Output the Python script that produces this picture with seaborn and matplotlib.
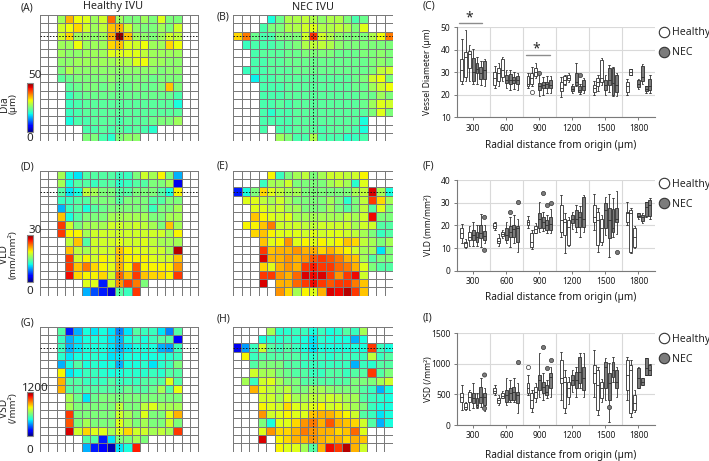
import numpy as np
import pandas as pd
import matplotlib
matplotlib.use('Agg')
import matplotlib.pyplot as plt
from matplotlib.colors import ListedColormap
from matplotlib.lines import Line2D
import seaborn as sns

N = np.nan

# ---------------- heat-map data (rows top->bottom, 19 columns) ----------------
dia_healthy = [
    [N,N,27,36,32,31,27,30,40,27,25,25,27,25,31,25,25,N,N],
    [N,N,30,32,34,30,27,29,35,36,30,26,25,25,27,25,30,N,N],
    [N,N,30,34,27,27,26,27,36,49,35,27,26,25,27,30,29,N,N],
    [N,N,27,27,32,27,27,27,34,35,31,30,32,27,27,34,32,N,N],
    [N,N,27,26,26,27,27,27,31,31,31,31,29,27,27,27,27,N,N],
    [N,N,26,26,27,27,27,27,27,28,28,31,32,27,27,26,26,N,N],
    [N,N,25,28,26,26,26,26,26,26,26,26,26,26,25,26,26,N,N],
    [N,N,23,24,25,25,25,25,26,25,25,25,25,24,25,25,25,N,N],
    [N,N,N,23,24,25,25,24,25,24,24,25,24,24,25,35,25,N,N],
    [N,N,N,21,23,24,24,24,24,24,24,24,24,24,24,24,22,N,N],
    [N,N,N,21,22,23,23,23,23,23,23,23,23,23,23,23,19,N,N],
    [N,N,N,21,22,23,23,23,23,23,23,23,23,23,23,23,23,N,N],
    [N,N,N,19,22,22,23,23,23,22,23,23,23,24,25,25,27,N,N],
    [N,N,N,N,N,22,22,23,22,23,22,23,22,20,N,N,N,N,N],
    [N,N,N,N,N,25,25,22,20,25,26,26,N,N,N,N,N,N,N],
]
dia_nec = [
    [N,N,N,N,19,24,28,28,29,28,26,28,28,25,22,24,N,N,N],
    [N,N,N,22,25,25,28,28,30,31,28,28,29,28,25,31,N,N,N],
    [34,39,24,22,22,25,25,25,30,43,30,28,26,25,25,25,28,32,39],
    [N,21,22,22,22,23,24,25,28,29,29,28,26,25,25,25,25,25,25],
    [N,N,22,23,23,23,24,24,25,25,25,25,24,24,24,25,25,26,25],
    [N,N,22,22,23,23,24,24,24,24,24,24,24,24,24,24,25,26,25],
    [N,21,22,22,23,23,23,24,24,24,24,24,24,24,24,24,25,29,30],
    [N,N,18,22,22,23,23,23,23,23,23,23,23,23,24,25,30,32,25],
    [N,N,N,22,22,22,23,23,23,23,23,23,23,23,24,24,27,30,32],
    [N,N,N,22,22,22,23,23,23,23,23,23,23,23,23,24,24,27,25],
    [N,N,N,22,22,23,22,23,23,23,23,23,23,23,23,24,27,31,30],
    [N,N,N,22,20,22,22,23,23,23,23,23,23,23,23,23,25,31,25],
    [N,N,N,22,22,22,22,23,23,23,23,23,23,23,23,19,N,N,N],
    [N,N,N,22,N,22,22,23,23,23,22,23,23,23,22,19,N,N,N],
    [N,N,N,N,N,27,25,22,22,28,22,22,22,20,21,22,N,N,N],
]
vld_healthy = [
    [N,N,16.5,11.4,10.5,13.5,13.5,13.5,13.5,12.6,12.6,15,18,16.5,19.5,15,9,N,N],
    [N,N,16.5,11.4,13.5,13.5,12.6,13.5,13.5,12,12.6,13.5,13.5,15,15,16.5,3,N,N],
    [N,N,13.5,10.5,11.4,17.4,16.5,15,15,13.5,13.5,15,15,15,13.5,11.4,19.5,N,N],
    [N,N,12.6,12.6,13.5,13.5,15,15,15,13.5,15,15,15,13.5,13.5,15,15,N,N],
    [N,N,9,12.6,13.5,11.4,13.5,14.4,15,15,15,15,15,12.6,15,15,16.5,N,N],
    [N,N,21,11.4,13.5,15,15,15,16.5,16.5,16.5,16.5,16.5,15,15,16.5,16.5,N,N],
    [N,N,25.5,18,15,16.5,16.5,16.5,18,18,17.4,18,17.4,16.5,15,21,16.5,N,N],
    [N,N,25.5,19.5,19.5,16.5,18,18,18,18,18,18,18,18,18,16.5,19.5,N,N],
    [N,N,N,17.4,21,13.5,18,18,18,18.6,18,18,18.6,17.4,16.5,16.5,16.5,N,N],
    [N,N,N,21,17.4,16.5,18,18,18,21,19.5,18.6,18.6,18,18,16.5,28.5,N,N],
    [N,N,N,25.5,18,19.5,18,19.5,18.6,21,19.5,19.5,19.5,18.6,18,18,21,N,N],
    [N,N,N,25.5,21,23.4,20.4,19.5,18.6,21.6,19.5,24.6,19.5,19.5,19.5,19.5,22.5,N,N],
    [N,N,N,27,20.4,19.5,19.5,20.4,18,24,21,25.5,21,20.4,20.4,19.5,25.5,N,N],
    [N,N,N,N,N,18.6,18.6,4.5,18,22.5,25.5,23.4,15,N,N,N,N,N,N],
    [N,N,N,N,N,9,6,4.5,2.4,13.5,12.6,25.5,N,N,N,N,N,N,N],
]
vld_nec = [
    [N,N,N,N,19.5,12.6,15,16.5,17.4,15,16.5,18,18,17.4,18,19.5,N,N,N],
    [N,N,N,12.6,16.5,16.5,18,15,15,15,15,16.5,17.4,16.5,12,18.6,N,N,N],
    [4.5,11.4,15,20.4,18.6,17.4,16.5,16.5,15,15,15,15,15,15,16.5,17.4,27.6,16.5,11.4],
    [N,18.6,18.6,17.4,16.5,18,16.5,15,15,15,15,16.5,15,12,15,17.4,25.5,20.4,16.5],
    [N,N,18.6,18.6,17.4,18,16.5,16.5,15,15,15,16.5,15,13.5,15,17.4,13.5,18.6,15],
    [N,N,21,19.5,18.6,18,18.6,16.5,16.5,16.5,16.5,16.5,16.5,17.4,16.5,18,27,15,15],
    [N,19.5,19.5,21,23.4,18,18,18,17.4,17.4,18,18,18,18,16.5,18,18,13.5,13.5],
    [N,N,20.4,21,19.5,18.6,18.6,18.6,18,18.6,18,18.6,18.6,18,17.4,16.5,15,12.6,13.5],
    [N,N,N,21,18.6,19.5,22.5,18.6,19.5,18.6,19.5,18.6,19.5,21,20.4,17.4,16.5,15,16.5],
    [N,N,N,25.5,21,21.6,21.6,22.5,21.6,21.6,20.4,21.6,20.4,19.5,18,16.5,16.5,10.5,15],
    [N,N,N,27.6,21.6,21.6,22.5,21.6,22.5,24.6,25.5,24.6,23.4,21.6,21,16.5,13.5,15,15],
    [N,N,N,20.4,18.6,21.6,22.5,21.6,25.5,26.4,25.5,25.5,24,23.4,21.6,18.6,15,13.5,13.5],
    [N,N,N,25.5,25.5,22.5,21.6,24,27.6,27,27.6,25.5,22.5,25.5,27,18,N,N,N],
    [N,N,N,27.6,N,21.6,21.6,24,25.5,27,25.5,24.6,25.5,25.5,23.4,21,N,N,N],
    [N,N,N,N,N,22.5,20.4,16.5,19.5,18.6,21.6,27.6,27,28.5,25.5,21,N,N,N],
]
vsd_healthy = [
    [N,N,540,180,360,456,420,456,420,300,420,540,504,504,420,300,540,N,N],
    [N,N,504,360,420,456,456,456,420,360,456,504,456,504,540,540,144,N,N],
    [N,N,504,360,420,456,456,456,420,360,420,456,456,456,360,336,504,N,N],
    [N,N,480,420,456,456,480,456,420,420,456,456,456,456,456,480,504,N,N],
    [N,N,360,456,540,456,480,456,456,360,456,456,480,420,480,504,600,N,N],
    [N,N,780,420,456,504,504,480,456,456,480,480,480,504,480,540,540,N,N],
    [N,N,864,540,540,504,504,504,540,504,504,504,540,540,540,744,540,N,N],
    [N,N,864,540,540,540,540,540,540,540,576,540,540,576,660,540,756,N,N],
    [N,N,N,660,576,420,576,600,600,600,600,600,600,600,600,600,600,N,N],
    [N,N,N,660,600,600,600,600,600,696,600,600,696,744,660,660,660,N,N],
    [N,N,N,1020,600,600,600,600,600,720,660,600,744,600,600,744,864,N,N],
    [N,N,N,984,600,660,600,600,600,744,660,600,660,600,600,720,600,N,N],
    [N,N,N,1104,720,816,744,744,660,744,816,720,720,660,696,660,1020,N,N],
    [N,N,N,N,N,540,540,180,420,600,600,660,600,N,N,N,N,N,N],
    [N,N,N,N,N,360,180,144,60,420,456,1056,N,N,N,N,N,N,N],
]
vsd_nec = [
    [N,N,N,N,660,480,480,504,504,456,504,456,480,540,504,660,N,N,N],
    [N,N,N,456,480,480,504,480,456,420,480,456,456,456,360,456,N,N,N],
    [120,336,504,720,540,504,540,504,456,420,456,456,456,456,456,456,1020,504,456],
    [N,780,504,540,540,540,540,540,504,480,504,480,504,504,504,504,696,504,540],
    [N,N,540,600,600,600,540,540,504,504,504,504,504,504,360,504,480,540,540],
    [N,N,720,660,660,600,576,540,540,504,504,540,540,504,540,540,1020,540,600],
    [N,660,504,720,744,660,600,600,540,540,540,540,540,540,600,600,600,660,720],
    [N,N,864,744,696,660,696,600,600,660,660,624,600,600,600,540,504,360,456],
    [N,N,N,720,720,660,744,660,660,696,696,720,696,660,660,540,504,480,456],
    [N,N,N,780,744,720,816,744,720,744,780,720,744,696,660,600,504,456,456],
    [N,N,N,900,720,744,780,744,744,840,864,864,816,780,720,540,504,420,456],
    [N,N,N,600,456,744,744,816,900,936,864,984,864,840,816,720,540,360,456],
    [N,N,N,744,900,816,816,864,936,900,864,864,816,840,960,744,N,N,N],
    [N,N,N,1104,N,780,816,864,864,900,864,840,864,816,864,840,N,N,N],
    [N,N,N,N,N,780,744,744,660,540,864,1080,1020,1140,864,720,N,N,N],
]

# ---------------- box-plot data: [low whisker, Q1, median, Q3, high whisker] ----------------
radial_bins = ['300', '600', '900', '1200', '1500', '1800']
healthy_ids = ['H1', 'H2', 'H3']
nec_ids = ['N1', 'N2', 'N3', 'N4']

dia_box_healthy = [
    [[25,26,31,36,45], [26,28,37,39,49], [26,32,38,39.5,42]],
    [[23,24.5,27.5,30,33], [24,26,29.5,32,34], [26,28,31,36,37]],
    [[23,23.7,25,28.4,29.5], [23.7,25,27.3,29.6,32.5], [27.5,28.2,30,32,34]],
    [[19,21.5,23,25.5,28], [24.5,25,26.5,28.4,29], [25.5,26.5,27.5,28.8,29.5]],
    [[20,21.4,23,24.4,26], [21.5,23.7,25.8,27.3,29], [24.4,25.8,27.3,35.3,36.5]],
    [[20,21.4,23.7,25.8,27], [28.8,29,30,31.3,31.5], None],
]
dia_box_nec = [
    [[25,26,30,36.5,40.5], [25,29.5,31.5,34.3,37], [24.4,27,29.6,32.5,35], [23.7,27,30.8,35,36]],
    [[23,25.1,26.6,28.8,31], [22,24.8,26.5,29.3,30.8], [22.5,25.1,26.6,28.1,30], [22,24.8,26.6,28.4,29.5]],
    [[19.5,22.1,23.7,25.1,29.5], [20,23,24.2,25.5,28], [21,23,24.6,25.8,28.5], [21,23,24.5,26.7,28.5]],
    [[21,21.6,22.6,23.7,25], [23.7,24.4,25.8,29.6,34], [20.5,21.1,22.3,23.7,25], [21,22.2,24,26.7,27.5]],
    [[20,22.2,24.4,26.7,28.8], [21.4,24.4,26.6,31.9,33.4], [19.5,20,25.1,31.9,32.5], [19.5,21.1,24.4,28.8,29.5]],
    [[22.5,23.5,25,26.5,27], [25,26,28,33,33.5], [21,21.5,22.5,24,24], [21,22,24,27,29]],
]
dia_outliers = [('900', 'H2', 21.4), ('900', 'N1', 29.6), ('1200', 'N3', 28.8)]

vld_box_healthy = [
    [[12,14.3,16.5,18.7,20.6], [10,10.6,12.1,12.8,14], [11,13.5,15,17.2,19.5]],
    [[18,18.7,19.8,21,21.5], [11,12,13.2,14.5,16], [14.5,15.4,16.3,17.2,18]],
    [[18.7,20.2,21.4,22.4,24], [9.6,10.6,12.8,16.5,18], [16.5,16.8,18.5,19.5,21]],
    [[14.7,17.2,22.4,29,33.4], [7.6,15.7,21.6,23,25.3], [11,11.3,19.4,22.4,23.5]],
    [[18,21.6,23.8,29,34], [8.4,11.3,22.4,26,27.5], [11.5,12.8,18.7,23,24.5]],
    [[20,21.6,25.3,26,30.4], [7.6,8.4,25.3,26.8,27.5], [10,10.6,15,18.7,19.5]],
]
vld_box_nec = [
    [[11,13.5,15.8,18,21.4], [11,12.8,15,17.2,20], [10.6,14.3,16.5,20.2,25], [12,13.5,15.5,17.5,20]],
    [[12,13.5,15.8,18.7,21.4], [10.6,15,17.2,19.5,23.5], [12,15,18.4,20.2,24.6], [8.3,12.8,18.7,19.5,23]],
    [[17.2,18.7,23,25.3,30.5], [17.5,18.7,21.6,23.8,26], [16.5,17.9,20.2,22.4,24.5], [16.5,17.9,20.5,23.8,27]],
    [[18.5,20.9,23,24.6,26], [17,19.4,23,26.8,29], [15,19.4,23.8,26,28.5], [17.2,19.4,23,32.6,33.4]],
    [[15.7,18.7,26.8,29.7,32.6], [6.2,14.3,22.4,27.5,34], [15,17,19,27,32], [16,21.6,23,27.5,35]],
    [[23,23.5,24,25.3,25.5], [21,22,23.5,24.6,25.5], [23.8,24,28,30.4,30.5], [23,24,29,31.2,32]],
]
vld_outliers = [('300', 'N4', 23.5), ('300', 'N4', 9), ('600', 'N2', 26), ('600', 'N4', 30.4),
                ('900', 'N2', 34.2), ('900', 'N3', 29), ('900', 'N4', 30), ('1500', 'N4', 8.3)]

vsd_box_healthy = [
    [[245,382,464,518,655], [245,260,300,355,380], [245,382,464,545,580]],
    [[490,518,562,600,655], [327,355,409,436,490], [436,440,480,518,560]],
    [[490,518,600,682,818], [220,273,409,518,570], [380,436,545,627,680]],
    [[409,682,764,1064,1200], [190,273,709,791,900], [350,464,600,709,790]],
    [[464,682,845,982,1227], [164,245,655,900,955], [380,436,600,709,760]],
    [[409,573,818,1064,1118], [136,191,900,982,1064], [220,245,355,491,570]],
]
vsd_box_nec = [
    [[270,355,436,518,680], [270,300,330,436,520], [300,355,464,616,764], [230,330,450,530,600]],
    [[327,382,491,573,764], [380,409,518,600,736], [380,409,545,616,764], [190,355,490,545,682]],
    [[464,573,736,818,1173], [409,518,627,709,845], [436,491,545,655,736], [464,600,791,845,955]],
    [[545,655,736,818,900], [464,600,736,873,955], [600,682,873,1118,1173], [464,573,764,955,1173]],
    [[409,600,955,1036,1100], [55,409,682,845,1009], [709,791,900,1036,1118], [464,600,700,900,950]],
    [[600,600,764,927,950], [655,655,709,764,764], [818,818,927,1091,1100], [818,818,900,982,1000]],
]
vsd_outliers = [('300', 'N4', 818), ('300', 'N4', 272), ('600', 'N4', 1036), ('900', 'H1', 955),
                ('900', 'N2', 1282), ('900', 'N3', 927), ('900', 'N4', 1064), ('1500', 'N2', 300)]

# ---------------- styling ----------------
sns.set_theme(style='white')
plt.rcParams['font.family'] = ['Noto Sans', 'DejaVu Sans']
plt.rcParams['axes.unicode_minus'] = False

W, H = 709, 461
fig = plt.figure(figsize=(W / 100, H / 100), dpi=100)
fig.patch.set_facecolor('white')


def rect(l, t, r, b):
    return [l / W, 1 - b / H, (r - l) / W, (b - t) / H]


def ftext(x, y, s, **kw):
    kw.setdefault('ha', 'center')
    kw.setdefault('va', 'center')
    fig.text(x / W, 1 - y / H, s, **kw)


def draw_map(box, grid, vmax):
    ax = fig.add_axes(rect(*box))
    arr = np.array(grid, dtype=float)
    sns.heatmap(np.zeros(arr.shape), ax=ax, cmap=ListedColormap(['white']), vmin=0, vmax=1,
                cbar=False, linewidths=0.6, linecolor='#a8a8a8',
                xticklabels=False, yticklabels=False)
    sns.heatmap(arr, ax=ax, cmap='jet', vmin=0, vmax=vmax, cbar=False,
                linewidths=0.6, linecolor='#7a7a7a',
                xticklabels=False, yticklabels=False)
    mesh = ax.collections[-1]
    ax.axvline(9.5, color='#1a1a1a', lw=0.7, ls=(0, (1.6, 1.6)))
    ax.axhline(2.5, color='#1a1a1a', lw=0.7, ls=(0, (1.6, 1.6)))
    return ax, mesh


def draw_cbar(mesh, box, top_lbl, top_y, bot_y, name, unit, name_y):
    cax = fig.add_axes(rect(*box))
    cb = fig.colorbar(mesh, cax=cax)
    cb.set_ticks([])
    cb.outline.set_edgecolor('#8a8a8a')
    cb.outline.set_linewidth(0.8)
    ftext(35, top_y, top_lbl, fontsize=8.3, fontweight='bold')
    ftext(30, bot_y, '0', fontsize=8.3, fontweight='bold')
    ftext(5, name_y, name, fontsize=7.3, fontweight='bold', rotation=90)
    ftext(13.5, name_y, unit, fontsize=7.0, fontweight='bold', rotation=90)


subjects = healthy_ids + nec_ids
palette = {s: 'white' for s in healthy_ids}
palette.update({s: '#7c7c7c' for s in nec_ids})


def long_table(box_h, box_n):
    rows = []
    for b, lab in enumerate(radial_bins):
        for ids, group in ((healthy_ids, box_h[b]), (nec_ids, box_n[b])):
            for sid, stats in zip(ids, group):
                if stats is None:
                    continue
                for v in stats:
                    rows.append((lab, sid, v))
    return pd.DataFrame(rows, columns=['bin', 'subject', 'value'])


def draw_box(box, box_h, box_n, outliers, ylim, yticks, ylabel, ylab_x, xlab_gap, leg_y):
    l, t, r, b = box
    ax = fig.add_axes(rect(*box))
    df = long_table(box_h, box_n)
    for x in np.arange(0.5, 5.5, 1.0):
        ax.axvline(x, color='#d9d9d9', lw=0.8, zorder=0)
    for y in yticks:
        ax.axhline(y, color='#d9d9d9', lw=0.8, zorder=0)
    sns.boxplot(data=df, x='bin', y='value', hue='subject', order=radial_bins,
                hue_order=subjects, palette=palette, whis=(0, 100), showfliers=False,
                width=0.8, gap=0.22, linecolor='#2e2e2e', linewidth=0.6,
                dodge=True, legend=False, ax=ax)
    odf = pd.DataFrame(outliers, columns=['bin', 'subject', 'value'])
    sns.stripplot(data=odf, x='bin', y='value', hue='subject', order=radial_bins,
                  hue_order=subjects, palette=palette, dodge=True, jitter=False,
                  size=3.0, linewidth=0.5, edgecolor='#333333', legend=False, ax=ax)
    ax.set_xlim(-0.5, 5.5)
    ax.set_ylim(*ylim)
    ax.set_yticks(yticks)
    ax.set_xticks(range(len(radial_bins)))
    ax.set_xticklabels(radial_bins)
    sns.despine(ax=ax)
    for sp in ('left', 'bottom'):
        ax.spines[sp].set_color('#7a7a7a')
        ax.spines[sp].set_linewidth(0.8)
    ax.tick_params(axis='both', which='major', bottom=True, left=True, length=2.5,
                   width=0.7, color='#7a7a7a', labelsize=6.1, pad=2, labelcolor='#1a1a1a')
    for tl in ax.get_xticklabels() + ax.get_yticklabels():
        tl.set_fontweight('bold')
    ax.set_ylabel(ylabel, fontsize=6.2, fontweight='bold', color='#1a1a1a')
    ax.yaxis.set_label_coords((ylab_x - l) / (r - l), 0.5)
    ax.set_xlabel('Radial distance from origin (µm)', fontsize=7.2, fontweight='semibold',
                  color='#1a1a1a')
    ax.xaxis.set_label_coords(0.523, -xlab_gap / (b - t))
    handles = [Line2D([], [], marker='o', ls='', markersize=7.5, markerfacecolor='white',
                      markeredgecolor='#333333', markeredgewidth=0.8),
               Line2D([], [], marker='o', ls='', markersize=7.5, markerfacecolor='#7c7c7c',
                      markeredgecolor='#333333', markeredgewidth=0.8)]
    ax.legend(handles, ['Healthy', 'NEC'], loc='upper left',
              bbox_to_anchor=(658 / W, 1 - leg_y / H), bbox_transform=fig.transFigure,
              frameon=False, prop={'weight': 'bold', 'size': 7.6}, handletextpad=0.25,
              labelspacing=0.85, borderaxespad=0, borderpad=0, handlelength=1.1)
    return ax


# ---------------- row 1: vessel diameter ----------------
axA, meshA = draw_map((40, 15, 198.5, 141.5), dia_healthy, 50)
axB, meshB = draw_map((233.3, 15, 393, 141.5), dia_nec, 50)
draw_cbar(meshA, (27.3, 83, 32.6, 132), '50', 76, 138.5, 'Dia', '(µm)', 104)
ftext(113, 6, 'Healthy IVU', fontsize=7.8, fontweight='bold')
ftext(313, 7.5, 'NEC IVU', fontsize=7.8, fontweight='bold')

axC = draw_box((456.7, 27.3, 655, 117.3), dia_box_healthy, dia_box_nec, dia_outliers,
               (10, 50), [10, 20, 30, 40, 50], 'Vessel Diameter (µm)', 432.5, 23, 27.5)
axC.plot([-0.44, 0.28], [51.8, 51.8], color='#8c8c8c', lw=1.0, clip_on=False)
axC.text(-0.11, 54.3, '*', ha='center', va='center', fontsize=10, fontweight='bold')
axC.plot([1.6, 2.33], [37.7, 37.7], color='#8c8c8c', lw=1.0, clip_on=False)
axC.text(1.92, 40.2, '*', ha='center', va='center', fontsize=10, fontweight='bold')

# ---------------- row 2: vessel length density ----------------
axD, meshD = draw_map((40, 170.7, 198.5, 295.7), vld_healthy, 30)
axE, meshE = draw_map((233.3, 170.7, 393, 295.7), vld_nec, 30)
draw_cbar(meshD, (27.3, 235, 32.6, 281.7), '30', 230, 292, 'VLD', '(mm/mm²)', 255)

axF = draw_box((456.7, 180, 655, 270.7), vld_box_healthy, vld_box_nec, vld_outliers,
               (0, 40), [0, 10, 20, 30, 40], 'VLD (mm/mm²)', 432.5, 21.5, 179)

# ---------------- row 3: vessel segment density ----------------
axG, meshG = draw_map((40, 326.7, 198.5, 451.7), vsd_healthy, 1200)
axH, meshH = draw_map((232.5, 326.7, 392.5, 451.7), vsd_nec, 1200)
draw_cbar(meshG, (27.3, 391.7, 32.6, 436), '1200', 388, 450, 'VSD', '(/mm²)', 408)

axI = draw_box((456.7, 333.3, 655, 425), vsd_box_healthy, vsd_box_nec, vsd_outliers,
               (0, 1500), [0, 500, 1000, 1500], 'VSD (/mm²)', 433, 25, 334)

# ---------------- panel letters ----------------
for lab, x, y in [('(A)', 21, 7.5), ('(B)', 217, 17), ('(C)', 423, 6),
                  ('(D)', 21, 167), ('(E)', 217, 166), ('(F)', 423, 166),
                  ('(G)', 21, 322.5), ('(H)', 217, 319), ('(I)', 423, 317.5)]:
    ftext(x, y, lab, ha='left', fontsize=7.4, fontweight='bold')

fig.savefig('out.png', dpi=100, facecolor='white')
